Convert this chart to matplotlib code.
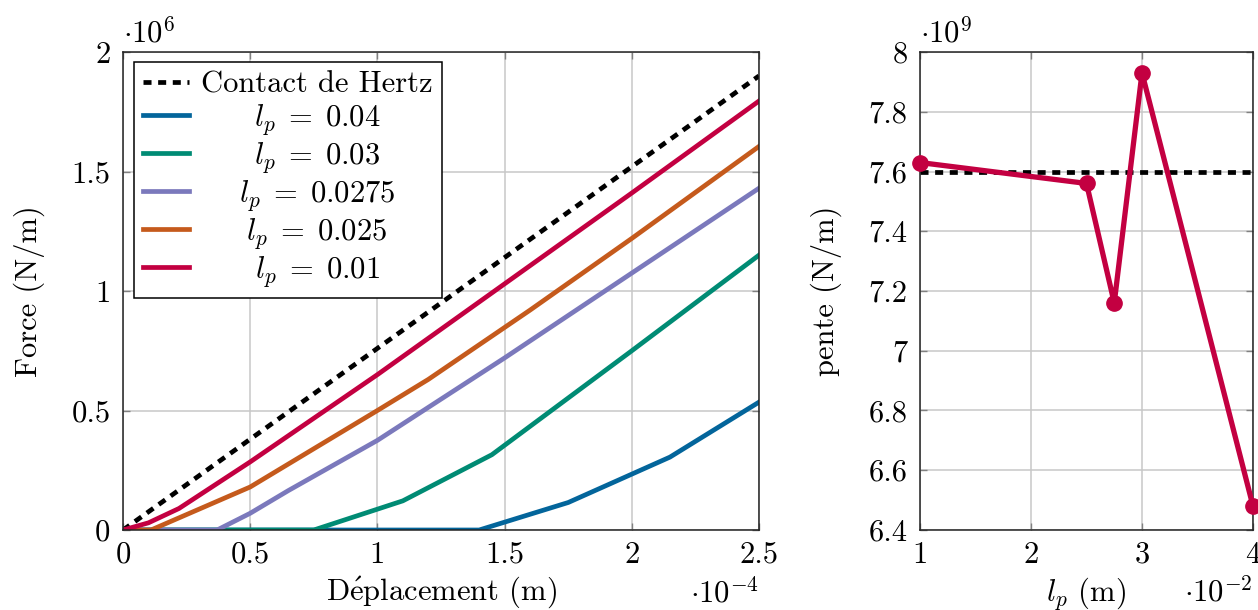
import numpy as np
import matplotlib
matplotlib.use("Agg")
import matplotlib.pyplot as plt
from matplotlib.ticker import FuncFormatter, MultipleLocator

plt.rcParams["font.family"] = ["cmr10", "DejaVu Serif"]
plt.rcParams["mathtext.fontset"] = "cm"
plt.rcParams["axes.formatter.use_mathtext"] = True
plt.rcParams["font.size"] = 22

# left plot: displacement (x 1e-4 m) vs force (x 1e6 N/m)
hertz_x = [0, 2.5]
hertz_y = [0, 1.9]

x_004 = [0, 1.40, 1.75, 2.15, 2.5]
y_004 = [0, 0, 0.115, 0.305, 0.535]

x_003 = [0, 0.75, 1.10, 1.45, 2.0, 2.5]
y_003 = [0, 0, 0.122, 0.315, 0.75, 1.15]

x_00275 = [0, 0.37, 0.5, 0.65, 1.0, 1.5, 2.0, 2.5]
y_00275 = [0, 0, 0.07, 0.165, 0.375, 0.72, 1.075, 1.43]

x_0025 = [0, 0.11, 0.5, 1.0, 1.2, 1.6, 2.0, 2.5]
y_0025 = [0, 0, 0.18, 0.5, 0.63, 0.92, 1.22, 1.605]

x_001 = [0, 0.1, 0.22, 0.5, 1.0, 1.5, 2.0, 2.5]
y_001 = [0, 0.03, 0.09, 0.285, 0.65, 1.03, 1.41, 1.795]

# right plot: slope vs l_p (x 1e-2 m), slope in 1e9 N/m
lp = [1, 2.5, 2.75, 3, 4]
pente = [7.63, 7.56, 7.16, 7.93, 6.48]
hertz_lp = [1, 4]
hertz_pente = [7.6, 7.6]

c_blue = "#03659b"
c_green = "#008b74"
c_purple = "#7b79bc"
c_orange = "#c55a1c"
c_red = "#c30041"

fig = plt.figure(figsize=(12.58, 6.10), dpi=100)
ax1 = fig.add_axes([123 / 1258, 80 / 610, 636 / 1258, 478 / 610])
ax2 = fig.add_axes([920 / 1258, 80 / 610, 333 / 1258, 478 / 610])

lw = 3.4
ax1.plot(hertz_x, hertz_y, color="black", lw=lw, dashes=(1.7, 1.4), label="Contact de Hertz")
ax1.plot(x_004, y_004, color=c_blue, lw=lw, label=r"$l_p\;=\;0.04$")
ax1.plot(x_003, y_003, color=c_green, lw=lw, label=r"$l_p\;=\;0.03$")
ax1.plot(x_00275, y_00275, color=c_purple, lw=lw, label=r"$l_p\;=\;0.0275$")
ax1.plot(x_0025, y_0025, color=c_orange, lw=lw, label=r"$l_p\;=\;0.025$")
ax1.plot(x_001, y_001, color=c_red, lw=lw, label=r"$l_p\;=\;0.01$")

ax2.plot(hertz_lp, hertz_pente, color="black", lw=lw, dashes=(1.7, 1.4))
ax2.plot(lp, pente, color=c_red, lw=3.8, marker="o", markersize=11, clip_on=False, zorder=5)

fmt = FuncFormatter(lambda v, p: "%g" % round(v, 4))

ax1.set_xlim(0, 2.5)
ax1.set_ylim(0, 2)
ax1.xaxis.set_major_locator(MultipleLocator(0.5))
ax1.yaxis.set_major_locator(MultipleLocator(0.5))

ax2.set_xlim(1, 4)
ax2.set_ylim(6.4, 8)
ax2.xaxis.set_major_locator(MultipleLocator(1))
ax2.yaxis.set_major_locator(MultipleLocator(0.2))

for ax in (ax1, ax2):
    ax.xaxis.set_major_formatter(fmt)
    ax.yaxis.set_major_formatter(fmt)
    ax.grid(True, color="#c8c8c8", lw=1.1)
    ax.set_axisbelow(True)
    ax.tick_params(direction="in", length=5, width=1, color="#808080",
                   top=True, right=True, labelsize=22)
    ax.tick_params(axis="x", pad=8)
    ax.tick_params(axis="y", pad=9)
    for s in ax.spines.values():
        s.set_linewidth(1.1)
        s.set_color("#222222")

ax1.set_xlabel(r"D$\acute{\mathrm{e}}$placement (m)")
ax1.set_ylabel("Force (N/m)")
ax1.xaxis.set_label_coords(0.5, -0.094)
ax1.yaxis.set_label_coords(-0.123, 0.5)

ax2.set_xlabel(r"$l_p$ (m)")
ax2.set_ylabel("pente (N/m)")
ax2.xaxis.set_label_coords(0.5, -0.094)
ax2.yaxis.set_label_coords(-0.234, 0.5)

ax1.text(0.0, 1.02, r"$\cdot 10^{6}$", transform=ax1.transAxes, ha="left", va="baseline", fontsize=22)
ax1.text(1.0, -0.152, r"$\cdot 10^{-4}$", transform=ax1.transAxes, ha="right", va="baseline", fontsize=22)
ax2.text(0.0, 1.02, r"$\cdot 10^{9}$", transform=ax2.transAxes, ha="left", va="baseline", fontsize=22)
ax2.text(1.0, -0.15, r"$\cdot 10^{-2}$", transform=ax2.transAxes, ha="right", va="baseline", fontsize=22)

leg = ax1.legend(loc="upper left", bbox_to_anchor=(0.0173, 0.979), borderaxespad=0,
                 fancybox=False, framealpha=1, edgecolor="black", handlelength=1.5,
                 handletextpad=0.4, labelspacing=0.1, borderpad=0.3, fontsize=22)
leg.get_frame().set_linewidth(1.1)

# center the legend labels within the text column
fig.canvas.draw()
r = fig.canvas.get_renderer()
widths = [t.get_window_extent(r).width for t in leg.get_texts()]
wmax = max(widths)
for t, w in zip(leg.get_texts(), widths):
    t.set_position(((wmax - w) / 2, 0))

fig.savefig("out.png", dpi=100)
